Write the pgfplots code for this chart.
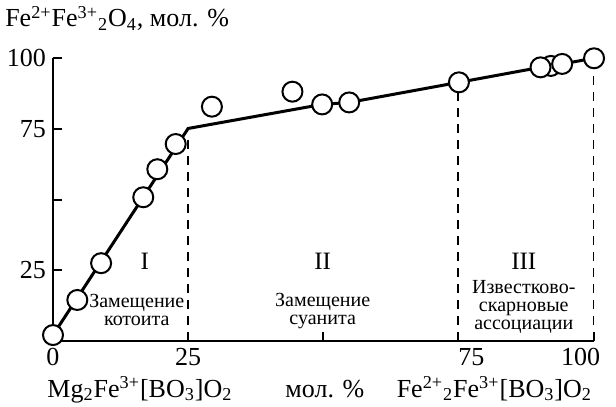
\documentclass[border=0pt]{standalone}
\usepackage{pgfplots}
\pgfplotsset{compat=1.18}
\usepackage{fontspec}
\setmainfont{Liberation Serif}
\begin{document}
\begin{tikzpicture}
\begin{axis}[
  scale only axis, width=270.25pt, height=141.5pt,
  xmin=0, xmax=100, ymin=0, ymax=100,
  axis x line=bottom, axis y line=left,
  axis line style={-, line width=1.2pt, black},
  clip=false,
  xtick={0,25,50,75,100},
  xticklabels={0,25,{},{\hspace*{13pt}75},{100\hspace*{13pt}}},
  ytick={25,50,75,100}, yticklabels={25,{},75,100},
  tick align=inside, major tick length=4.5pt,
  tick style={line width=1pt, black},
  ticklabel style={font=\fontsize{13}{14}\selectfont},
  /pgf/number format/assume math mode=true,
]
% main curve
\addplot[line width=1.5pt, black] coordinates {
  (0,2.1) (25,75.1) (49.8,83.6) (54.8,84.3) (75.1,91.4) (90.2,96.7) (94.2,97.9) (100,99.9)
};
% dashed boundaries
\addplot[black, line width=0.9pt, dash pattern=on 4.5pt off 3.5pt] coordinates {(25,0) (25,73)};
\addplot[black, line width=0.9pt, dash pattern=on 4.5pt off 3.5pt] coordinates {(75,0) (75,91)};
\addplot[black, line width=0.9pt, dash pattern=on 4.5pt off 3.5pt] coordinates {(100,0) (100,99)};
% data points
\addplot[only marks, mark=*, mark size=5pt, mark options={fill=white, draw=black, line width=1pt}] coordinates {
  (0,2.1) (4.5,14.5) (8.9,27.5) (16.7,50.8) (19.3,60.7) (22.7,69.6)
  (29.4,82.8) (44.3,88.1) (49.8,83.6) (54.8,84.3)
  (75.1,91.4) (92.1,97.2) (90.2,96.7) (94.2,97.9) (100.1,99.9)
};
% region labels
\node[font=\fontsize{12.5}{12}\selectfont] at (axis cs:17,28.3) {I};
\node[font=\fontsize{12.5}{12}\selectfont] at (axis cs:49.9,28.3) {II};
\node[font=\fontsize{12.5}{12}\selectfont] at (axis cs:87.1,28.3) {III};
\node[font=\fontsize{10}{9}\selectfont, align=center] at (axis cs:15.5,11) {Замещение\\котоита};
\node[font=\fontsize{10}{9}\selectfont, align=center] at (axis cs:49.9,10.6) {Замещение\\суанита};
\node[font=\fontsize{10}{9}\selectfont, align=center] at (axis cs:87.1,12.2) {Известково-\\скарновые\\ассоциации};
% axis titles
\node[font=\fontsize{13}{14}\selectfont, anchor=base west, inner sep=0pt] at (axis cs:-8.9,111) {Fe\textsuperscript{2+}Fe\textsuperscript{3+}\textsubscript{2}O\textsubscript{4}, мол. \%};
\node[font=\fontsize{13}{14}\selectfont, anchor=base west, inner sep=0pt] at (axis cs:-1.1,-19.8) {Mg\textsubscript{2}Fe\textsuperscript{3+}[BO\textsubscript{3}]O\textsubscript{2}};
\node[font=\fontsize{13}{14}\selectfont, anchor=base, inner sep=0pt] at (axis cs:50.3,-19.8) {мол. \%};
\node[font=\fontsize{13}{14}\selectfont, anchor=base east, inner sep=0pt] at (axis cs:99.8,-19.8) {Fe\textsuperscript{2+}\textsubscript{2}Fe\textsuperscript{3+}[BO\textsubscript{3}]O\textsubscript{2}};
\end{axis}
\pgfresetboundingbox
\path[use as bounding box] (-26.5pt,-33pt) rectangle (281.5pt,170.5pt);
\end{tikzpicture}
\end{document}
